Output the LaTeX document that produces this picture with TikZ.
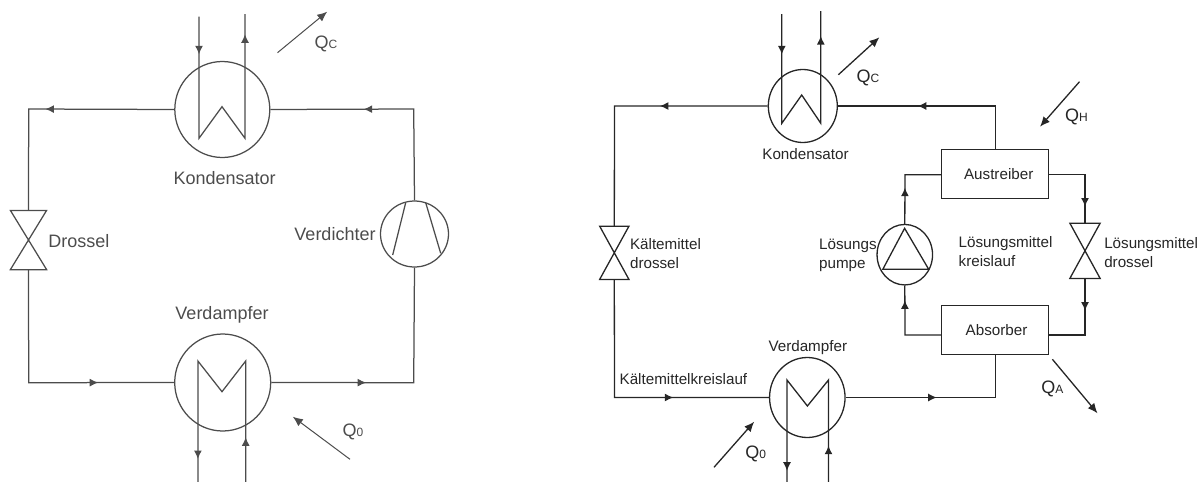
\documentclass[tikz,border=0pt]{standalone}
\usepackage{fontspec}
\setmainfont{Liberation Sans}
\usetikzlibrary{arrows.meta,shapes.geometric,decorations.markings}
\tikzset{
  flow/.style={postaction={decorate}, decoration={markings,
    mark=at position #1 with {\arrow{Latex[length=8.5pt,width=8pt]}}}},
  flowtwo/.style 2 args={postaction={decorate}, decoration={markings,
    mark=at position #1 with {\arrow{Latex[length=8.5pt,width=8pt]}},
    mark=at position #2 with {\arrow{Latex[length=8.5pt,width=8pt]}}}},
  heat/.style={-{Latex[length=10pt,width=8.5pt]}},
  coil/.style={draw, ellipse, inner sep=0pt, minimum width=#1},
  symbolbox/.style={inner sep=0pt, minimum width=#1},
  vessel/.style={draw, rectangle, inner sep=0pt, minimum width=107pt, minimum height=49pt},
  bigfont/.style={font=\fontsize{18}{22}\selectfont},
  smallfont/.style={font=\fontsize{15.2}{19}\selectfont, align=left}
}
\newcommand{\subq}[1]{{\fontsize{12}{12}\selectfont #1}}
\begin{document}
\begin{tikzpicture}[x=1pt, y=-1pt]
  \useasboundingbox (0, 0) rectangle (1200, 482);
  \begin{scope}[line width=1.25pt, color=black!70, every node/.append style={bigfont}]
    \node[coil=95pt, minimum height=96pt] (kond) at (222.3, 109.5) {};
    \node[coil=96pt, minimum height=97pt] (verd) at (222.7, 382.5) {};
    \node[coil=68pt, minimum height=66pt] (comp) at (414.5, 234) {};
    \node[symbolbox=35pt, minimum height=58pt] (dross) at (28.5, 240) {};
    \coordinate (topleft) at (28.7, 109);
    \coordinate (topright) at (413.7, 109);
    \coordinate (botleft) at (28.7, 382.7);
    \coordinate (botright) at (413.7, 382.7);
    \draw[flow=128.8pt] (kond.west) -- (topleft) -- (dross.north);
    \draw[flow=182.6pt] (dross.south) -- (botleft) -- (verd.west);
    \draw[flow=94.8pt] (verd.east) -- (botright) -- (comp.south);
    \draw[flow=141.4pt] (comp.north) -- (topright) -- (kond.east);
    \draw (dross.north west) -- (dross.south east) -- (dross.south west) -- (dross.north east) -- cycle;
    \draw (405.7, 202.7) -- (392.7, 255);
    \draw (425.7, 202.7) -- (440.7, 253.3);
    \coordinate (kondin) at (199, 16.7);
    \coordinate (kondout) at (245, 14);
    \coordinate (verdin) at (245.7, 482);
    \coordinate (verdout) at (197.9, 482);
    \draw[flowtwo={37.6pt}{-20.3pt}] (kondin) -- (199, 138.3) -- (222, 106.7) -- (245, 138.3) -- (kondout);
    \draw[flowtwo={44.7pt}{-23pt}] (verdin) -- (245.7, 361) -- (222, 391.7) -- (197.9, 361) -- (verdout);
    \coordinate (qca) at (277.5, 52.7);
    \coordinate (qcb) at (327.2, 11.7);
    \coordinate (qoa) at (350, 459.3);
    \coordinate (qob) at (292.8, 416.7);
    \draw[heat, line width=1pt] (qca) -- (qcb);
    \draw[heat, line width=1pt] (qoa) -- (qob);
    \node (kondlab) at (224.6, 178) {Kondensator};
    \node (verdlab) at (222, 315) {Verdampfer};
    \node (complab) at (335, 234) {Verdichter};
    \node[anchor=west, inner sep=0pt] (drosslab) at (47.7, 241) {Drossel};
    \node (qclab) at (326, 44) {Q\subq{C}};
    \node (qolab) at (353, 431.7) {Q\subq{0}};
  \end{scope}
  \begin{scope}[line width=1.3pt, color=black!85, every node/.append style={smallfont}]
    \node[coil=69pt, minimum height=73pt] (kondr) at (802.8, 106) {};
    \node[coil=75.5pt, minimum height=80pt] (verdr) at (807.3, 397.5) {};
    \node[coil=55.5pt, minimum height=60.5pt] (pump) at (904.8, 254.7) {};
    \node[vessel] (aust) at (995.2, 174.3) {\hspace*{7pt}Austreiber};
    \node[vessel] (abso) at (995, 330.3) {\hspace*{3pt}Absorber};
    \node[symbolbox=28pt, minimum height=52pt] (kdross) at (614.3, 252.8) {};
    \node[symbolbox=29pt, minimum height=54pt] (ldross) at (1085, 250.8) {};
    \coordinate (tl) at (614.5, 106);
    \coordinate (bl) at (614.5, 397.5);
    \coordinate (br) at (995.3, 397.5);
    \coordinate (tr) at (995.3, 106);
    \coordinate (al) at (905, 174.7);
    \coordinate (ar) at (1085, 174.7);
    \coordinate (bbl) at (905, 335);
    \coordinate (bbr) at (1085, 335);
    \draw[flow=107.8pt] (kondr.west) -- (tl) -- (kdross.north);
    \draw[flow=176.9pt] (kdross.south) -- (bl) -- (verdr.west);
    \draw[flow=91pt] (verdr.east) -- (br) -- (abso.south -| br);
    \draw[flow=120.7pt] (aust.north -| tr) -- (tr) -- (kondr.east);
    \draw[flow=70.5pt] (bbl -| abso.west) -- (bbl) -- (pump.south);
    \draw[flow=36.1pt] (pump.north) -- (al) -- (al -| aust.west);
    \draw[flow=67.5pt] (al -| aust.east) -- (ar) -- (ldross.north);
    \draw[flow=32.2pt] (ldross.south) -- (bbr) -- (bbr -| abso.east);
    \foreach \v in {kdross, ldross}
      \draw (\v.north west) -- (\v.south east) -- (\v.south west) -- (\v.north east) -- cycle;
    \draw (904.6, 228.3) -- (882.8, 269.3) -- (928.7, 269.3) -- cycle;
    \coordinate (kondrin) at (781.8, 14);
    \coordinate (kondrout) at (820.8, 11);
    \coordinate (verdrin) at (828.5, 482);
    \coordinate (verdrout) at (787, 482);
    \draw[flowtwo={40.3pt}{-25pt}] (kondrin) -- (781.8, 123.3) -- (801.7, 95) -- (820.8, 123.3) -- (kondrout);
    \draw[flowtwo={36.3pt}{-11.3pt}] (verdrin) -- (828.5, 380) -- (807.4, 406) -- (787, 380) -- (verdrout);
    \coordinate (qcra) at (838.4, 74.7);
    \coordinate (qcrb) at (879.4, 37.3);
    \coordinate (qha) at (1079.5, 81.7);
    \coordinate (qhb) at (1040, 126.7);
    \coordinate (qora) at (714, 467.3);
    \coordinate (qorb) at (754.2, 421.7);
    \coordinate (qaa) at (1052.4, 359.3);
    \coordinate (qab) at (1097.5, 413.3);
    \draw[heat] (qcra) -- (qcrb);
    \draw[heat] (qha) -- (qhb);
    \draw[heat] (qora) -- (qorb);
    \draw[heat] (qaa) -- (qab);
    \node (kondrlab) at (805.5, 154.3) {Kondensator};
    \node (verdrlab) at (807.8, 347.7) {Verdampfer};
    \node[anchor=west, inner sep=0pt] (krlab) at (619, 379) {Kältemittelkreislauf};
    \node[anchor=west, inner sep=0pt] (kdlab) at (629.4, 253.8) {Kältemittel\\drossel};
    \node[anchor=west, inner sep=0pt] (pumplab) at (818.5, 255.5) {Lösungs\\pumpe};
    \node[anchor=west, inner sep=0pt] (lkrlab) at (958, 251.3) {Lösungsmittel\\kreislauf};
    \node[anchor=west, inner sep=0pt] (ldlab) at (1103.6, 252.3) {Lösungsmittel\\drossel};
    \node[font=\fontsize{18}{22}\selectfont] (qcrlab) at (867.9, 78.3) {Q\subq{C}};
    \node[font=\fontsize{18}{22}\selectfont] (qhlab) at (1076.5, 117.3) {Q\subq{H}};
    \node[font=\fontsize{18}{22}\selectfont] (qorlab) at (755.8, 454.3) {Q\subq{0}};
    \node[font=\fontsize{18}{22}\selectfont] (qalab) at (1052.4, 389.3) {Q\subq{A}};
  \end{scope}
\end{tikzpicture}
\end{document}
